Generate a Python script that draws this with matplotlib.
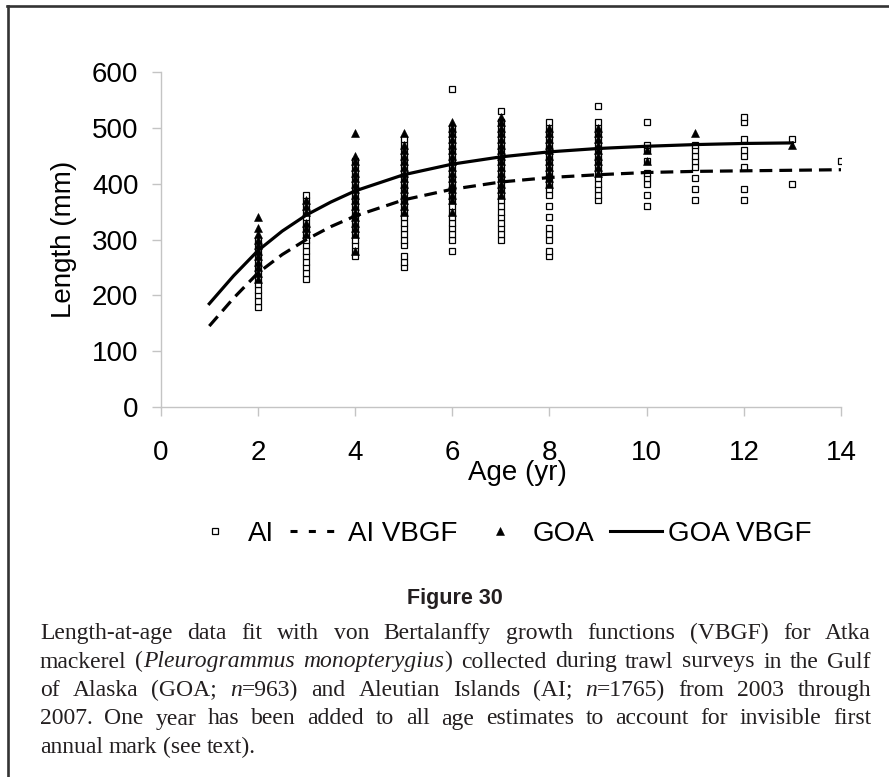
import matplotlib
matplotlib.use("Agg")
import matplotlib.pyplot as plt
from matplotlib.lines import Line2D

plt.rcParams['font.family'] = ['Liberation Sans', 'DejaVu Sans']

# lengths (mm), one list per age class
ai_2 = [180, 190, 200, 210, 220, 230, 240, 250, 260, 270, 280, 290, 300]
ai_3 = [230, 240, 250, 260, 270, 280, 290, 300, 310, 320, 330, 340, 350, 360, 370, 380]
ai_4 = [270, 280, 290, 300, 310, 320, 330, 340, 350, 360, 370, 380, 390, 400, 410, 420, 430, 440]
ai_5 = [250, 260, 270, 290, 300, 310, 320, 330, 340, 350, 360, 370, 380, 390, 400, 410, 420,
        430, 440, 450, 460, 470, 480]
ai_6 = [280, 300, 310, 320, 330, 340, 350, 360, 370, 380, 390, 400, 410, 420, 430, 440, 450,
        460, 470, 480, 490, 500, 570]
ai_7 = [300, 310, 320, 330, 340, 350, 360, 370, 380, 390, 400, 410, 420, 430, 440, 450, 460,
        470, 480, 490, 500, 510, 530]
ai_8 = [270, 280, 300, 310, 320, 340, 360, 380, 390, 400, 410, 420, 430, 440, 450, 460, 470,
        480, 490, 500, 510]
ai_9 = [370, 380, 390, 400, 410, 420, 430, 440, 450, 460, 470, 480, 490, 500, 510, 540]
ai_10 = [360, 380, 400, 410, 420, 440, 460, 470, 510]
ai_11 = [370, 390, 410, 430, 440, 450, 460, 470]
ai_12 = [370, 390, 430, 450, 460, 480, 510, 520]
ai_13 = [400, 480]
ai_14 = [440]

goa_2 = [230, 240, 250, 260, 270, 280, 290, 300, 310, 320, 340]
goa_3 = [310, 320, 330, 350, 360, 370]
goa_4 = [280, 310, 320, 330, 340, 350, 360, 370, 380, 390, 400, 410, 420, 430, 440, 450, 490]
goa_5 = [350, 360, 370, 380, 390, 400, 410, 420, 430, 440, 450, 460, 470, 490]
goa_6 = [350, 370, 380, 390, 400, 410, 420, 430, 440, 450, 460, 470, 480, 490, 500, 510]
goa_7 = [380, 390, 400, 410, 420, 430, 440, 450, 460, 470, 480, 490, 500, 510, 520]
goa_8 = [400, 410, 420, 430, 440, 450, 460, 470, 480, 490, 500]
goa_9 = [420, 430, 440, 450, 460, 470, 480, 490, 500]
goa_10 = [440, 460]
goa_11 = [490]
goa_13 = [470]

# fitted VBGF curves, read at these ages
vb_age = [1, 1.5, 2, 2.5, 3, 3.5, 4, 5, 6, 7, 8, 9, 10, 11, 12, 13, 14]
ai_vbgf = [145, 195, 240, 273, 300, 323, 342, 371, 390, 403, 411, 416, 420, 422, 423, 424, 425]
goa_vbgf = [185, 235, 280, 315, 344, 367, 387, 416, 435, 448, 457, 463, 467, 470, 472, 473]

caption = [
    "Length-at-age data fit with von Bertalanffy growth functions (VBGF) for Atka",
    "mackerel (*Pleurogrammus monopterygius*) collected during trawl surveys in the Gulf",
    "of Alaska (GOA; *n*=963) and Aleutian Islands (AI; *n*=1765) from 2003 through",
    "2007. One year has been added to all age estimates to account for invisible first",
    "annual mark (see text).",
]

ai_groups = [(2, ai_2), (3, ai_3), (4, ai_4), (5, ai_5), (6, ai_6), (7, ai_7), (8, ai_8),
             (9, ai_9), (10, ai_10), (11, ai_11), (12, ai_12), (13, ai_13), (14, ai_14)]
goa_groups = [(2, goa_2), (3, goa_3), (4, goa_4), (5, goa_5), (6, goa_6), (7, goa_7),
              (8, goa_8), (9, goa_9), (10, goa_10), (11, goa_11), (13, goa_13)]


def flatten(groups):
    xs, ys = [], []
    for age, lens in groups:
        xs += [age] * len(lens)
        ys += lens
    return xs, ys


W, H = 889, 777
fig = plt.figure(figsize=(W / 100, H / 100), dpi=100)
ax = fig.add_axes([160.7 / W, 1 - 407 / H, 680.3 / W, 335 / H])

ai_x, ai_y = flatten(ai_groups)
goa_x, goa_y = flatten(goa_groups)

ai_pts, = ax.plot(ai_x, ai_y, ls='none', marker='s', ms=3.8, mfc='white', mec='black', mew=0.9, zorder=3)
ax.plot(vb_age, ai_vbgf, color='black', lw=2.3, dashes=(4, 2.2), zorder=4)
goa_pts, = ax.plot(goa_x, goa_y, ls='none', marker='^', ms=5.6, mfc='black', mec='black', mew=0.4, zorder=5)
ax.plot(vb_age[:-1], goa_vbgf, color='black', lw=2.3, zorder=6)

ax.set_xlim(0, 14)
ax.set_ylim(0, 600)
ax.set_xticks(range(0, 15, 2))
ax.set_yticks(range(0, 601, 100))
for s in ['top', 'right']:
    ax.spines[s].set_visible(False)
for s in ['left', 'bottom']:
    ax.spines[s].set_color('#c4c4c4')
    ax.spines[s].set_linewidth(1.0)
ax.tick_params(length=6.5, width=1.0, color='#c4c4c4', labelsize=20, labelcolor='black')
ax.tick_params(axis='x', pad=17)
ax.tick_params(axis='y', pad=9.5)

ax.set_xlabel('Age (yr)', fontsize=20, va='baseline', ha='left')
ax.xaxis.set_label_coords((468 - 160.7) / 680.3, (407 - 480) / 335)
ax.set_ylabel('Length (mm)', fontsize=20, va='center', ha='center')
ax.yaxis.set_label_coords((64 - 160.7) / 680.3, 0.5)

# legend, dashed handle drawn with shorter dashes like the original
ai_line_h = Line2D([], [], color='black', lw=2.2, dashes=(2.3, 3.7))
goa_line_h = Line2D([], [], color='black', lw=2.2)
ax.legend([ai_pts, ai_line_h, goa_pts, goa_line_h], ['AI', 'AI VBGF', 'GOA', 'GOA VBGF'],
          loc='center', bbox_to_anchor=(500.5 / W, 1 - 534 / H), bbox_transform=fig.transFigure,
          ncol=4, frameon=False, fontsize=20, handlelength=1.9, handletextpad=0.22,
          columnspacing=0.56, borderpad=0, borderaxespad=0, numpoints=1)

# page frame (left and top rule)
fig.add_artist(Line2D([8 / W, 8 / W], [0, 1 - 6 / H], transform=fig.transFigure, color='#333333', lw=1.9))
fig.add_artist(Line2D([7 / W, 1], [1 - 6 / H, 1 - 6 / H], transform=fig.transFigure, color='#333333', lw=1.9))

fig.text(455 / W, 1 - 604 / H, 'Figure 30', ha='center', va='baseline', fontsize=15.5,
         fontweight='bold', color='#231f20')

# justified caption
cap_kw = dict(family=['Liberation Serif', 'DejaVu Serif'], size=17, color='#231f20')
renderer = fig.canvas.get_renderer()


def text_width(s, style):
    t = fig.text(0, 0, s, style=style, **cap_kw)
    w = t.get_window_extent(renderer).width
    t.remove()
    return w


x0, x1 = 40, 871
baselines = [639, 667.5, 696, 724.5, 753]
space_w = text_width('x x', 'normal') - text_width('xx', 'normal')
italic = False
for i, line in enumerate(caption):
    words = []
    for w in line.split(' '):
        segs = []
        for j, piece in enumerate(w.split('*')):
            if j > 0:
                italic = not italic
            if piece:
                segs.append((piece, 'italic' if italic else 'normal'))
        words.append(segs)
    widths = [[text_width(p, st) for p, st in segs] for segs in words]
    total = sum(sum(ws) for ws in widths)
    if i == len(caption) - 1:
        gap = space_w
    else:
        gap = (x1 - x0 - total) / (len(words) - 1)
    x = x0
    for segs, ws in zip(words, widths):
        for (p, st), wd in zip(segs, ws):
            fig.text(x / W, 1 - baselines[i] / H, p, style=st, va='baseline', **cap_kw)
            x += wd
        x += gap

fig.savefig('out.png', dpi=100)
